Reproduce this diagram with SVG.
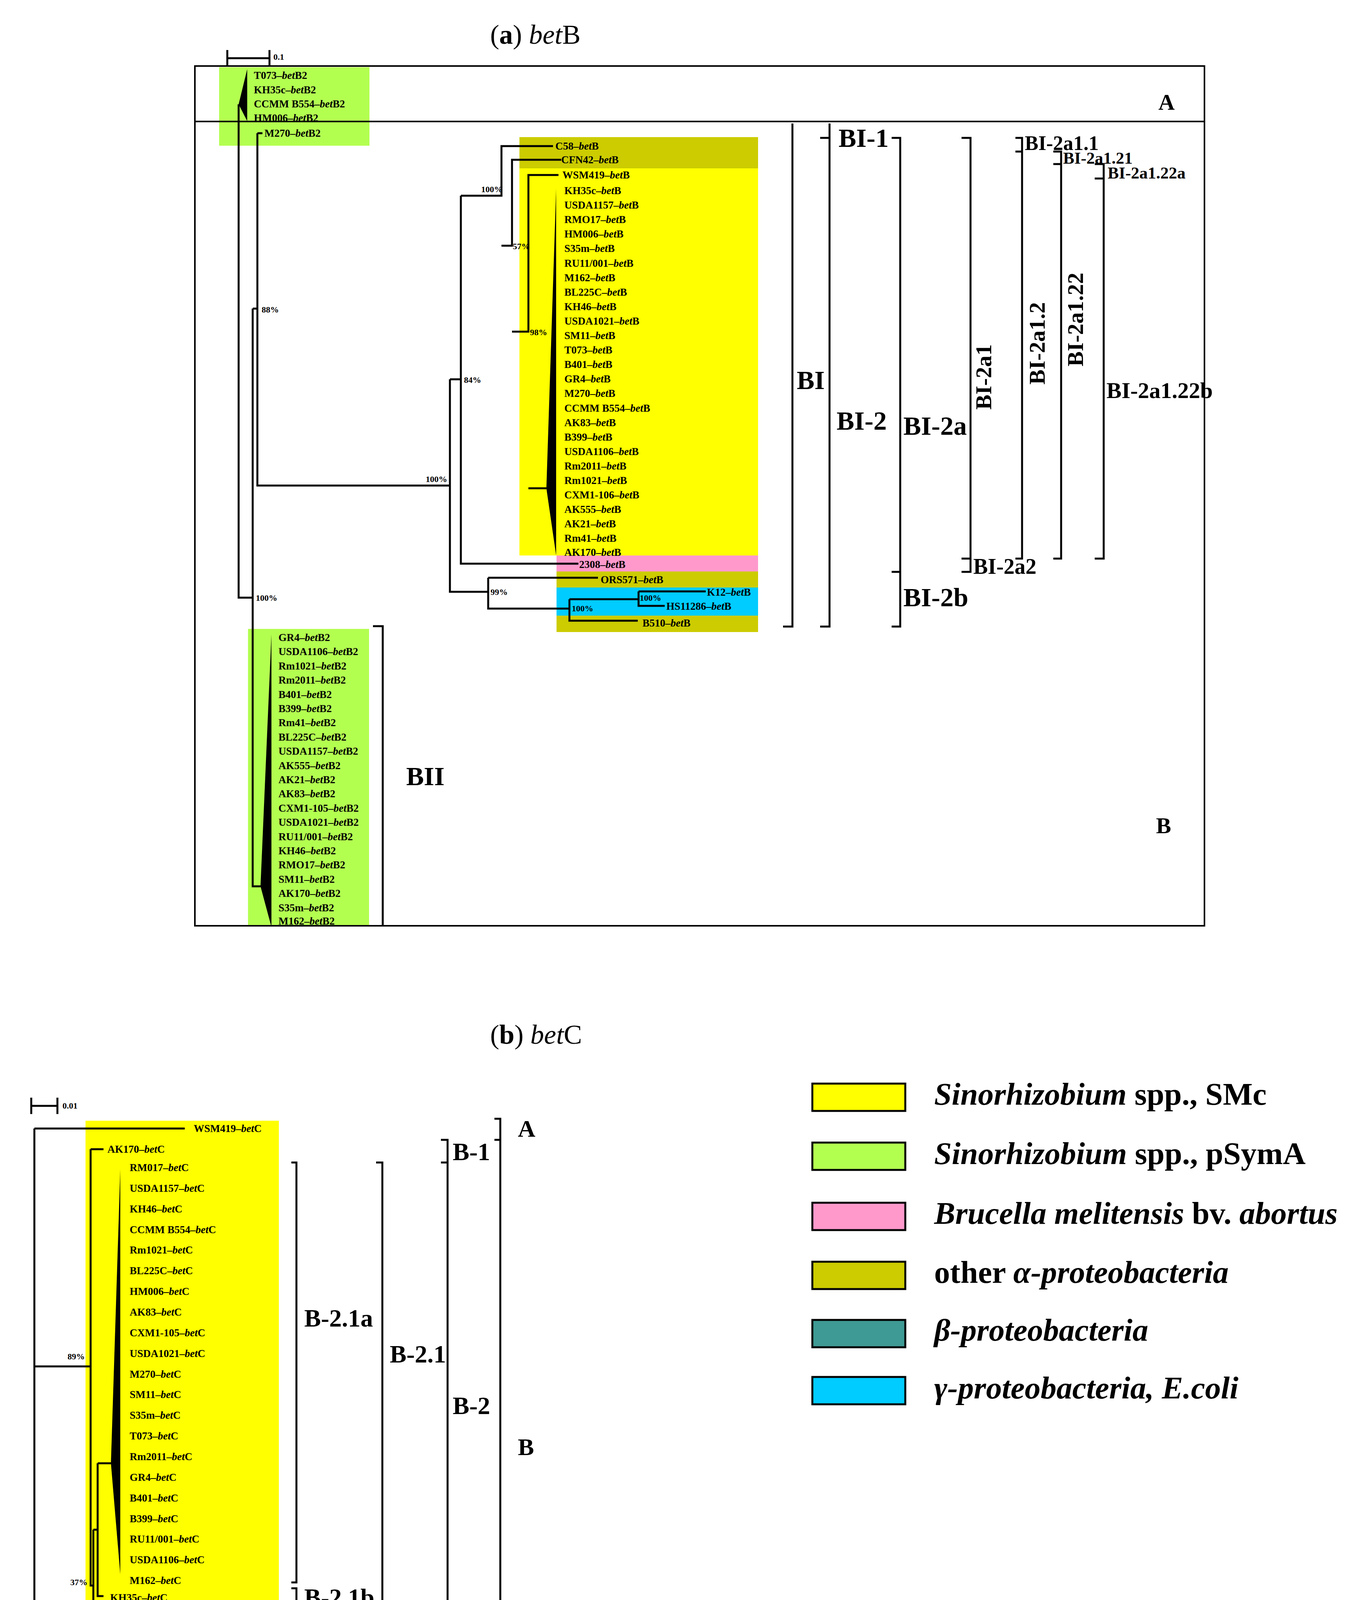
<svg xmlns="http://www.w3.org/2000/svg" width="3513" height="4455" viewBox="0 0 3513 4455">
<style>
.ln{stroke:#000;stroke-width:5;fill:none}
.bx{stroke:#000;stroke-width:4;fill:none}
.lf{font-family:"Liberation Serif",serif;font-weight:bold;font-size:27px;dominant-baseline:central}
.pc{font-family:"Liberation Serif",serif;font-weight:bold;font-size:22px}
.cl{font-family:"Liberation Serif",serif;font-weight:bold;dominant-baseline:central}
.i{font-style:italic}
.lg{font-family:"Liberation Serif",serif;font-weight:bold;font-size:80px}
</style>
<rect width="3513" height="4455" fill="#fff"/>
<g id="backgrounds">
<rect x="561" y="172" width="385" height="201" fill="#B3FF50"/>
<rect x="1330" y="351" width="611" height="80" fill="#CCCC00"/>
<rect x="1330" y="431" width="611" height="991" fill="#FFFF00"/>
<rect x="1425" y="1422" width="516" height="41" fill="#FF99CC"/>
<rect x="1425" y="1463" width="516" height="41" fill="#CCCC00"/>
<rect x="1425" y="1504" width="516" height="72" fill="#00CCFF"/>
<rect x="1425" y="1576" width="516" height="42" fill="#CCCC00"/>
<rect x="635" y="1610" width="310" height="760" fill="#B3FF50"/>
<rect x="219" y="2869" width="495" height="1394" fill="#FFFF00"/>
<rect x="2697" y="4270" width="467" height="105" fill="#CCCC00"/>
</g>
<g id="titles">
<text x="1255" y="112" font-family="Liberation Serif,serif" font-size="70">(<tspan font-weight="bold">a</tspan>) <tspan font-style="italic">bet</tspan>B</text>
<text x="1255" y="2672" font-family="Liberation Serif,serif" font-size="70">(<tspan font-weight="bold">b</tspan>) <tspan font-style="italic">bet</tspan>C</text>
</g>
<g id="frame">
<rect class="bx" x="499" y="169" width="2585" height="2201"/>
<line class="bx" x1="499" y1="311" x2="3084" y2="311"/>
<text class="cl" x="2966" y="261" font-size="58">A</text>
<text class="cl" x="2960" y="2113" font-size="58">B</text>
</g>
<g id="scalebars">
<path class="ln" d="M582 149H690M582 128V170M690 128V170"/>
<text class="pc" x="700" y="153" font-size="20">0.1</text>
<path class="ln" d="M80 2831H147M80 2810V2852M147 2810V2852"/>
<text class="pc" x="160" y="2838" font-size="20">0.01</text>
</g>
<g id="connectors">
<polygon points="633,177 611,267 633,310" fill="#000"/>
<path class="ln" d="M611 267V1530H647M647 790V2269H667M647 790H659M659 341V1243H1152M659 341H672"/>
<polygon points="695,1624 667,2269 695,2373" fill="#000"/>
<path class="ln" d="M1152 971V1515H1250M1152 971H1180M1180 501V1443H1481M1180 501H1284V374H1416M1284 629H1311V409H1437M1311 849H1353V448H1430M1353 1250H1399"/>
<polygon points="1424,484 1399,1250 1424,1422" fill="#000"/>
<path class="ln" d="M1250 1479V1558H1458M1250 1479H1531M1458 1534V1589H1633M1458 1534H1635M1635 1514V1551H1702M1635 1514H1807"/>
<path class="ln" d="M88 2889V4321H1803M88 2889H473M88 3498H232M232 2942V4059H239M232 2942H265M239 3916V4209H250M239 3916H250M250 3746V4086H265M250 3746H284"/>
<polygon points="308,2994 284,3746 308,4030" fill="#000"/>
<polygon points="268,4125 250,4209 268,4258" fill="#000"/>
<path class="ln" d="M1803 4296V4346M1803 4296H2756M1803 4346H2957"/>
</g>
<g id="bootstrap">
<text class="pc" x="670" y="800">88%</text>
<text class="pc" x="655" y="1538">100%</text>
<text class="pc" x="1090" y="1234">100%</text>
<text class="pc" x="1188" y="980">84%</text>
<text class="pc" x="1232" y="492">100%</text>
<text class="pc" x="1313" y="638">57%</text>
<text class="pc" x="1357" y="858">98%</text>
<text class="pc" x="1256" y="1523">99%</text>
<text class="pc" x="1464" y="1565">100%</text>
<text class="pc" x="1638" y="1538">100%</text>
<text class="pc" x="173" y="3480">89%</text>
<text class="pc" x="180" y="4058">37%</text>
<text class="pc" x="1810" y="4330">100%</text>
</g>
<g id="leaves-a">
<text class="lf" x="650" y="193">T073–<tspan class="i">bet</tspan>B2</text>
<text class="lf" x="650" y="230">KH35c–<tspan class="i">bet</tspan>B2</text>
<text class="lf" x="650" y="266">CCMM B554–<tspan class="i">bet</tspan>B2</text>
<text class="lf" x="650" y="302">HM006–<tspan class="i">bet</tspan>B2</text>
<text class="lf" x="677" y="341">M270–<tspan class="i">bet</tspan>B2</text>
<text class="lf" x="1422" y="374">C58–<tspan class="i">bet</tspan>B</text>
<text class="lf" x="1437" y="409">CFN42–<tspan class="i">bet</tspan>B</text>
<text class="lf" x="1440" y="448">WSM419–<tspan class="i">bet</tspan>B</text>
<text class="lf" x="1445" y="488">KH35c–<tspan class="i">bet</tspan>B</text>
<text class="lf" x="1445" y="525">USDA1157–<tspan class="i">bet</tspan>B</text>
<text class="lf" x="1445" y="562">RMO17–<tspan class="i">bet</tspan>B</text>
<text class="lf" x="1445" y="599">HM006–<tspan class="i">bet</tspan>B</text>
<text class="lf" x="1445" y="636">S35m–<tspan class="i">bet</tspan>B</text>
<text class="lf" x="1445" y="674">RU11/001–<tspan class="i">bet</tspan>B</text>
<text class="lf" x="1445" y="711">M162–<tspan class="i">bet</tspan>B</text>
<text class="lf" x="1445" y="748">BL225C–<tspan class="i">bet</tspan>B</text>
<text class="lf" x="1445" y="785">KH46–<tspan class="i">bet</tspan>B</text>
<text class="lf" x="1445" y="822">USDA1021–<tspan class="i">bet</tspan>B</text>
<text class="lf" x="1445" y="859">SM11–<tspan class="i">bet</tspan>B</text>
<text class="lf" x="1445" y="896">T073–<tspan class="i">bet</tspan>B</text>
<text class="lf" x="1445" y="933">B401–<tspan class="i">bet</tspan>B</text>
<text class="lf" x="1445" y="970">GR4–<tspan class="i">bet</tspan>B</text>
<text class="lf" x="1445" y="1007">M270–<tspan class="i">bet</tspan>B</text>
<text class="lf" x="1445" y="1045">CCMM B554–<tspan class="i">bet</tspan>B</text>
<text class="lf" x="1445" y="1082">AK83–<tspan class="i">bet</tspan>B</text>
<text class="lf" x="1445" y="1119">B399–<tspan class="i">bet</tspan>B</text>
<text class="lf" x="1445" y="1156">USDA1106–<tspan class="i">bet</tspan>B</text>
<text class="lf" x="1445" y="1193">Rm2011–<tspan class="i">bet</tspan>B</text>
<text class="lf" x="1445" y="1230">Rm1021–<tspan class="i">bet</tspan>B</text>
<text class="lf" x="1445" y="1267">CXM1-106–<tspan class="i">bet</tspan>B</text>
<text class="lf" x="1445" y="1304">AK555–<tspan class="i">bet</tspan>B</text>
<text class="lf" x="1445" y="1341">AK21–<tspan class="i">bet</tspan>B</text>
<text class="lf" x="1445" y="1378">Rm41–<tspan class="i">bet</tspan>B</text>
<text class="lf" x="1445" y="1414">AK170–<tspan class="i">bet</tspan>B</text>
<text class="lf" x="1483" y="1445">2308–<tspan class="i">bet</tspan>B</text>
<text class="lf" x="1538" y="1484">ORS571–<tspan class="i">bet</tspan>B</text>
<text class="lf" x="1810" y="1516">K12–<tspan class="i">bet</tspan>B</text>
<text class="lf" x="1706" y="1552">HS11286–<tspan class="i">bet</tspan>B</text>
<text class="lf" x="1645" y="1595">B510–<tspan class="i">bet</tspan>B</text>
<text class="lf" x="713" y="1632">GR4–<tspan class="i">bet</tspan>B2</text>
<text class="lf" x="713" y="1668">USDA1106–<tspan class="i">bet</tspan>B2</text>
<text class="lf" x="713" y="1705">Rm1021–<tspan class="i">bet</tspan>B2</text>
<text class="lf" x="713" y="1741">Rm2011–<tspan class="i">bet</tspan>B2</text>
<text class="lf" x="713" y="1778">B401–<tspan class="i">bet</tspan>B2</text>
<text class="lf" x="713" y="1814">B399–<tspan class="i">bet</tspan>B2</text>
<text class="lf" x="713" y="1850">Rm41–<tspan class="i">bet</tspan>B2</text>
<text class="lf" x="713" y="1887">BL225C–<tspan class="i">bet</tspan>B2</text>
<text class="lf" x="713" y="1923">USDA1157–<tspan class="i">bet</tspan>B2</text>
<text class="lf" x="713" y="1960">AK555–<tspan class="i">bet</tspan>B2</text>
<text class="lf" x="713" y="1996">AK21–<tspan class="i">bet</tspan>B2</text>
<text class="lf" x="713" y="2032">AK83–<tspan class="i">bet</tspan>B2</text>
<text class="lf" x="713" y="2069">CXM1-105–<tspan class="i">bet</tspan>B2</text>
<text class="lf" x="713" y="2105">USDA1021–<tspan class="i">bet</tspan>B2</text>
<text class="lf" x="713" y="2142">RU11/001–<tspan class="i">bet</tspan>B2</text>
<text class="lf" x="713" y="2178">KH46–<tspan class="i">bet</tspan>B2</text>
<text class="lf" x="713" y="2214">RMO17–<tspan class="i">bet</tspan>B2</text>
<text class="lf" x="713" y="2251">SM11–<tspan class="i">bet</tspan>B2</text>
<text class="lf" x="713" y="2287">AK170–<tspan class="i">bet</tspan>B2</text>
<text class="lf" x="713" y="2324">S35m–<tspan class="i">bet</tspan>B2</text>
<text class="lf" x="713" y="2358">M162–<tspan class="i">bet</tspan>B2</text>
</g>
<g id="clades-a">
<path class="ln" d="M955 1603H980V2370"/>
<text class="cl" x="1040" y="1987" font-size="68">BII</text>
<path class="ln" d="M2029 316V1604H2005"/>
<text class="cl" x="2040" y="973" font-size="68">BI</text>
<path class="ln" d="M2124 316V1604H2100M2100 353H2124"/>
<text class="cl" x="2147" y="353" font-size="68">BI-1</text>
<text class="cl" x="2142" y="1077" font-size="68">BI-2</text>
<path class="ln" d="M2283 353H2305V1604H2283M2283 1464H2305"/>
<text class="cl" x="2313" y="1090" font-size="68">BI-2a</text>
<text class="cl" x="2313" y="1529" font-size="68">BI-2b</text>
<path class="ln" d="M2462 353H2485V1464H2462M2462 1430H2485"/>
<text class="cl" x="2492" y="1450" font-size="56">BI-2a2</text>
<text class="cl" font-size="58" transform="translate(2518 965) rotate(-90)" text-anchor="middle">BI-2a1</text>
<path class="ln" d="M2600 353H2617V1430H2600M2600 388H2617"/>
<text class="cl" x="2624" y="366" font-size="52">BI-2a1.1</text>
<text class="cl" font-size="58" transform="translate(2655 879) rotate(-90)" text-anchor="middle">BI-2a1.2</text>
<path class="ln" d="M2697 388H2717V1430H2697M2697 420H2717"/>
<text class="cl" x="2722" y="404" font-size="43">BI-2a1.21</text>
<text class="cl" font-size="58" transform="translate(2753 818) rotate(-90)" text-anchor="middle">BI-2a1.22</text>
<path class="ln" d="M2803 420H2826V1430H2803M2803 457H2826"/>
<text class="cl" x="2836" y="442" font-size="43">BI-2a1.22a</text>
<text class="cl" x="2833" y="999" font-size="58">BI-2a1.22b</text>
</g>
<g id="leaves-b">
<text class="lf" x="496" y="2889">WSM419–<tspan class="i">bet</tspan>C</text>
<text class="lf" x="275" y="2942">AK170–<tspan class="i">bet</tspan>C</text>
<text class="lf" x="332" y="2989">RM017–<tspan class="i">bet</tspan>C</text>
<text class="lf" x="332" y="3042">USDA1157–<tspan class="i">bet</tspan>C</text>
<text class="lf" x="332" y="3095">KH46–<tspan class="i">bet</tspan>C</text>
<text class="lf" x="332" y="3148">CCMM B554–<tspan class="i">bet</tspan>C</text>
<text class="lf" x="332" y="3200">Rm1021–<tspan class="i">bet</tspan>C</text>
<text class="lf" x="332" y="3253">BL225C–<tspan class="i">bet</tspan>C</text>
<text class="lf" x="332" y="3306">HM006–<tspan class="i">bet</tspan>C</text>
<text class="lf" x="332" y="3359">AK83–<tspan class="i">bet</tspan>C</text>
<text class="lf" x="332" y="3412">CXM1-105–<tspan class="i">bet</tspan>C</text>
<text class="lf" x="332" y="3465">USDA1021–<tspan class="i">bet</tspan>C</text>
<text class="lf" x="332" y="3518">M270–<tspan class="i">bet</tspan>C</text>
<text class="lf" x="332" y="3570">SM11–<tspan class="i">bet</tspan>C</text>
<text class="lf" x="332" y="3623">S35m–<tspan class="i">bet</tspan>C</text>
<text class="lf" x="332" y="3676">T073–<tspan class="i">bet</tspan>C</text>
<text class="lf" x="332" y="3729">Rm2011–<tspan class="i">bet</tspan>C</text>
<text class="lf" x="332" y="3782">GR4–<tspan class="i">bet</tspan>C</text>
<text class="lf" x="332" y="3835">B401–<tspan class="i">bet</tspan>C</text>
<text class="lf" x="332" y="3888">B399–<tspan class="i">bet</tspan>C</text>
<text class="lf" x="332" y="3940">RU11/001–<tspan class="i">bet</tspan>C</text>
<text class="lf" x="332" y="3993">USDA1106–<tspan class="i">bet</tspan>C</text>
<text class="lf" x="332" y="4046">M162–<tspan class="i">bet</tspan>C</text>
<text class="lf" x="282" y="4090">KH35c–<tspan class="i">bet</tspan>C</text>
<text class="lf" x="281" y="4141">Rm41–<tspan class="i">bet</tspan>C</text>
<text class="lf" x="281" y="4191">AK21–<tspan class="i">bet</tspan>C</text>
<text class="lf" x="281" y="4241">AK555–<tspan class="i">bet</tspan>C</text>
<text class="lf" x="2762" y="4296">C58–<tspan class="i">bet</tspan>C</text>
<text class="lf" x="2965" y="4346">CFN42–<tspan class="i">bet</tspan>C</text>
</g>
<g id="clades-b">
<path class="ln" d="M746 2976H759V4051H746M746 4066H759V4113H746"/>
<text class="cl" x="779" y="3374" font-size="64">B-2.1a</text>
<text class="cl" x="779" y="4089" font-size="64">B-2.1b</text>
<path class="ln" d="M963 2976H979V4274H963M963 4113H979"/>
<text class="cl" x="998" y="3466" font-size="64">B-2.1</text>
<text class="cl" x="998" y="4198" font-size="64">B-2.2</text>
<path class="ln" d="M1129 2918H1146V4274H1129M1129 2976H1146"/>
<text class="cl" x="1159" y="2948" font-size="64">B-1</text>
<text class="cl" x="1159" y="3598" font-size="64">B-2</text>
<path class="ln" d="M1266 2864H1281V4274H1266M1266 2918H1281"/>
<text class="cl" x="1326" y="2889" font-size="62">A</text>
<text class="cl" x="1326" y="3704" font-size="62">B</text>
<path class="ln" d="M3230 4273H3242V4378H3230"/>
<text x="3328" y="4325" font-family="Liberation Serif,serif" font-size="68" dominant-baseline="central">C</text>
</g>
<g id="legend">
<g stroke="#000" stroke-width="5">
<rect x="2080" y="2774" width="238" height="70" fill="#FFFF00"/>
<rect x="2080" y="2925" width="238" height="70" fill="#B3FF50"/>
<rect x="2080" y="3079" width="238" height="70" fill="#FF99CC"/>
<rect x="2080" y="3230" width="238" height="70" fill="#CCCC00"/>
<rect x="2080" y="3379" width="238" height="70" fill="#3E9A94"/>
<rect x="2080" y="3525" width="238" height="70" fill="#00CCFF"/>
</g>
<text class="lg" x="2392" y="2828" textLength="851" lengthAdjust="spacingAndGlyphs"><tspan class="i">Sinorhizobium</tspan> spp., SMc</text>
<text class="lg" x="2392" y="2980" textLength="951" lengthAdjust="spacingAndGlyphs"><tspan class="i">Sinorhizobium</tspan> spp., pSymA</text>
<text class="lg" x="2392" y="3133" textLength="1033" lengthAdjust="spacingAndGlyphs"><tspan class="i">Brucella melitensis</tspan> bv. <tspan class="i">abortus</tspan></text>
<text class="lg" x="2392" y="3284" textLength="754" lengthAdjust="spacingAndGlyphs">other <tspan class="i">α-proteobacteria</tspan></text>
<text class="lg i" x="2392" y="3432" textLength="548" lengthAdjust="spacingAndGlyphs">β-proteobacteria</text>
<text class="lg i" x="2392" y="3580" textLength="779" lengthAdjust="spacingAndGlyphs">γ-proteobacteria, E.coli</text>
</g>
</svg>
